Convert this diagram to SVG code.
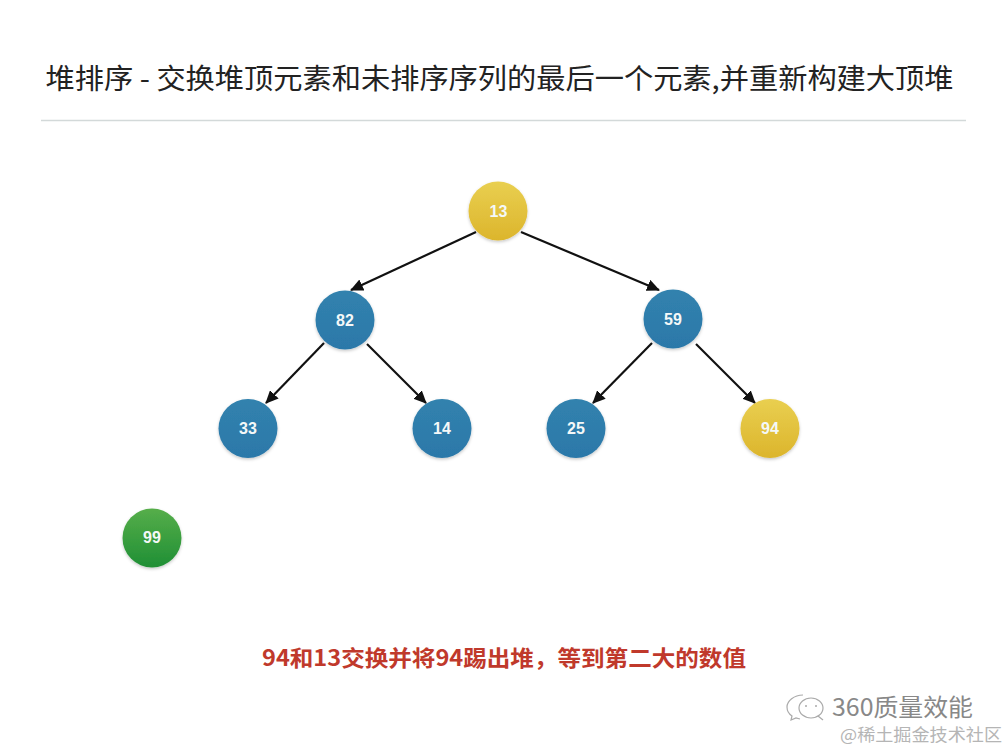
<svg xmlns="http://www.w3.org/2000/svg" width="1006" height="750" viewBox="0 0 1006 750">
<style>
.n{font:bold 16px "Liberation Sans",Arial,sans-serif;fill:#f4f8f8;text-anchor:middle}
.c{fill:none;stroke:#111;stroke-width:2.200;marker-end:url(#a)}
.cjk{font-family:"Noto Sans CJK SC","Liberation Sans",sans-serif}
.b{fill:url(#gb)}.y{fill:url(#gy)}.g{fill:url(#gg)}
circle{filter:url(#s)}
</style>
<defs>
<marker id="a" markerWidth="14" markerHeight="12" refX="12" refY="6" orient="auto" markerUnits="userSpaceOnUse"><path d="M0 0L13 6L0 12Z" fill="#111"/></marker>
<linearGradient id="gb" x1="0" y1="0" x2="0" y2="1"><stop offset="0" stop-color="#3182ae"/><stop offset="1" stop-color="#2c78a9"/></linearGradient>
<linearGradient id="gy" x1="0" y1="0" x2="0" y2="1"><stop offset="0" stop-color="#e9cf50"/><stop offset="1" stop-color="#dcb52c"/></linearGradient>
<linearGradient id="gg" x1="0" y1="0" x2="0" y2="1"><stop offset="0" stop-color="#56ae4a"/><stop offset="1" stop-color="#1f8f35"/></linearGradient>
<filter id="s" x="-20%" y="-20%" width="140%" height="150%"><feDropShadow dx="0" dy="1.500" stdDeviation="1.500" flood-color="#000" flood-opacity=".22"/></filter>
</defs>
<rect width="1006" height="750" fill="#fff"/>
<text class="cjk" x="499.500" y="89" font-size="28" fill="#222" text-anchor="middle" textLength="908" lengthAdjust="spacingAndGlyphs">堆排序 - 交换堆顶元素和未排序序列的最后一个元素,并重新构建大顶堆</text>
<line x1="41" y1="120.500" x2="966" y2="120.500" stroke="#d3d9d9" stroke-width="1.500"/>
<g id="connectors">
<line class="c" x1="476" y1="232" x2="351" y2="290"/>
<line class="c" x1="521" y1="232" x2="659" y2="290"/>
<line class="c" x1="324" y1="343" x2="266" y2="403"/>
<line class="c" x1="367" y1="344" x2="426" y2="403"/>
<line class="c" x1="652" y1="343" x2="593" y2="403"/>
<line class="c" x1="696" y1="344" x2="755" y2="403"/>
</g>
<g id="n13"><circle class="y" cx="498" cy="211" r="29.500"/><text class="n" x="498.500" y="216.500">13</text></g>
<g id="n82"><circle class="b" cx="345" cy="320" r="29.500"/><text class="n" x="345" y="325.500">82</text></g>
<g id="n59"><circle class="b" cx="673" cy="319" r="29.500"/><text class="n" x="673" y="324.500">59</text></g>
<g id="n33"><circle class="b" cx="248" cy="428.500" r="29.500"/><text class="n" x="248" y="433.500">33</text></g>
<g id="n14"><circle class="b" cx="442" cy="428.500" r="29.500"/><text class="n" x="442" y="433.500">14</text></g>
<g id="n25"><circle class="b" cx="576" cy="428.500" r="29.500"/><text class="n" x="576" y="433.500">25</text></g>
<g id="n94"><circle class="y" cx="770" cy="428.500" r="29.500"/><text class="n" x="770" y="433.500">94</text></g>
<g id="n99"><circle class="g" cx="152" cy="538" r="29.500"/><text class="n" x="152" y="542.500">99</text></g>
<text class="cjk" x="504" y="666" font-size="22" font-weight="700" fill="#c0392b" text-anchor="middle" textLength="484" lengthAdjust="spacingAndGlyphs">94和13交换并将94踢出堆，等到第二大的数值</text>
<g id="logo" fill="none" stroke="#aaa" stroke-width="1.200">
<path d="M803 695c-9 0-16 6-16 12 0 4 2 7 5 9l-1 4 5-2 4 1"/>
<ellipse cx="811" cy="708" rx="12" ry="10"/><path d="M818 716l5 4"/>
<circle cx="806" cy="706" r="1" fill="#aaa" stroke="none" style="filter:none"/><circle cx="816" cy="706" r="1" fill="#aaa" stroke="none" style="filter:none"/>
</g>
<text class="cjk" x="832" y="716" font-size="24" fill="#888" textLength="141" lengthAdjust="spacingAndGlyphs">360质量效能</text>
<text class="cjk" x="840" y="741" font-size="17" fill="#b5b5b5" textLength="162" lengthAdjust="spacingAndGlyphs">@稀土掘金技术社区</text>
</svg>
